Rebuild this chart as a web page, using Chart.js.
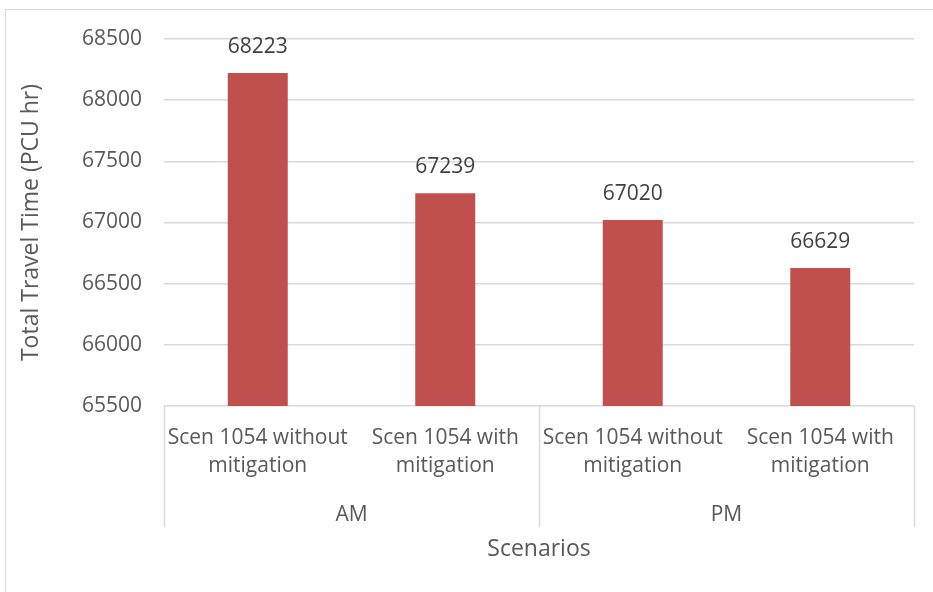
<!DOCTYPE html>
<html>
<head>
<meta charset="utf-8">
<script src="https://cdn.jsdelivr.net/npm/chart.js@4.4.1/dist/chart.umd.min.js"></script>
<style>
  html, body { margin: 0; padding: 0; background: #fff; overflow: hidden; }
  #frame { position: absolute; left: 5px; top: 9px; width: 960px; height: 620px; border: 1.5px solid #d9d9d9; box-sizing: border-box; }
  #wrap { position: absolute; left: 0; top: 0; width: 933px; height: 592px; }
</style>
</head>
<body>
<div id="frame"></div>
<div id="wrap"><canvas id="c" width="933" height="592"></canvas></div>
<script>
const categories = [
  ["Scen 1054 without", "mitigation"],
  ["Scen 1054 with", "mitigation"],
  ["Scen 1054 without", "mitigation"],
  ["Scen 1054 with", "mitigation"]
];
const groups = ["AM", "PM"];
const travelTime = [68223, 67239, 67020, 66629];
const yTicks = [65500, 66000, 66500, 67000, 67500, 68000, 68500];

const FONT = "'Open Sans', sans-serif";
const TEXT = "#595959";
const GRID = "#d9d9d9";

const valueLabels = {
  id: 'valueLabels',
  afterDatasetsDraw(chart) {
    const ctx = chart.ctx;
    const meta = chart.getDatasetMeta(0);
    ctx.save();
    ctx.font = "21px " + FONT;
    ctx.fillStyle = "#404040";
    ctx.textAlign = "center";
    ctx.textBaseline = "middle";
    meta.data.forEach((bar, i) => {
      ctx.fillText(String(chart.data.datasets[0].data[i]), bar.x, bar.y - 26);
    });
    ctx.restore();
  }
};

const separators = {
  id: 'separators',
  afterDraw(chart) {
    const ctx = chart.ctx;
    const x = chart.scales.x;
    const x2 = chart.scales.x2;
    const a = chart.chartArea;
    const mid = (x.getPixelForValue(1) + x.getPixelForValue(2)) / 2;
    const end = x2.top + 36;
    ctx.save();
    ctx.strokeStyle = GRID;
    ctx.lineWidth = 1.5;
    [a.left, mid, a.right].forEach(px => {
      ctx.beginPath();
      ctx.moveTo(Math.round(px) + 0.5, a.bottom);
      ctx.lineTo(Math.round(px) + 0.5, end);
      ctx.stroke();
    });
    ctx.restore();
  }
};

new Chart(document.getElementById('c'), {
  type: 'bar',
  data: {
    labels: categories,
    datasets: [{
      data: travelTime,
      backgroundColor: '#C0504D',
      categoryPercentage: 1,
      barPercentage: 0.32
    }]
  },
  options: {
    responsive: false,
    animation: false,
    layout: { padding: { left: 18, top: 39, right: 19, bottom: 9 } },
    plugins: { legend: { display: false }, tooltip: { enabled: false } },
    scales: {
      y: {
        min: 65500, max: 68500,
        afterBuildTicks(s) { s.ticks = yTicks.map(v => ({ value: v })); },
        afterFit(s) { s.width = 146; },
        border: { display: false },
        grid: { color: GRID, lineWidth: 1.5, drawTicks: false },
        ticks: { color: TEXT, font: { family: FONT, size: 21 }, padding: 22, callback: v => String(v) },
        title: { display: true, text: 'Total Travel Time (PCU hr)', color: TEXT, font: { family: FONT, size: 23 }, padding: 0 }
      },
      x: {
        position: 'bottom',
        border: { display: false },
        grid: { display: false, drawTicks: false },
        ticks: { color: TEXT, font: { family: FONT, size: 21, lineHeight: 1.333 }, padding: 18, maxRotation: 0, autoSkip: false },
        afterFit(s) { s.height = 85; }
      },
      x2: {
        type: 'category',
        labels: groups,
        position: 'bottom',
        offset: true,
        border: { display: false },
        grid: { display: false, drawTicks: false },
        ticks: { color: TEXT, font: { family: FONT, size: 21 }, padding: 11 },
        afterFit(s) { s.height = 92; },
        title: { display: true, text: 'Scenarios', color: TEXT, font: { family: FONT, size: 23 }, padding: { top: 0, bottom: 20 } }
      }
    }
  },
  plugins: [valueLabels, separators]
});
</script>
</body>
</html>
